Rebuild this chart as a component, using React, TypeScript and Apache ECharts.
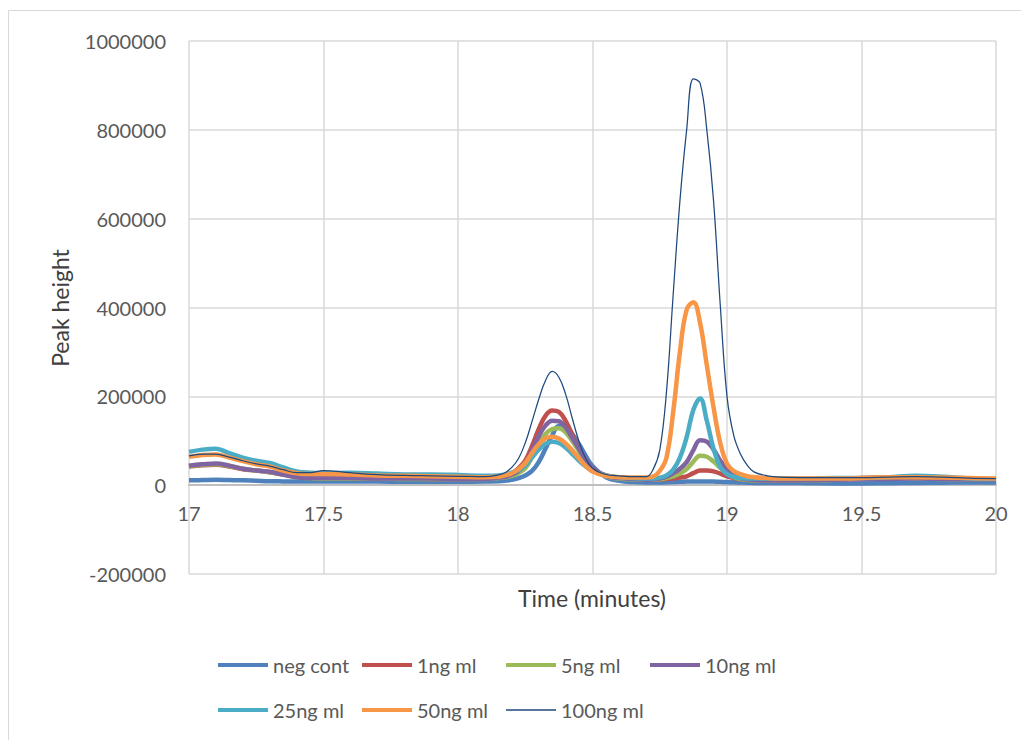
import React, { useEffect, useRef } from "react";
import * as echarts from "echarts";

// Time axis (minutes)
const time = [17, 17.05, 17.1, 17.15, 17.2, 17.25, 17.3, 17.35, 17.4, 17.45, 17.5, 17.6, 17.7, 17.8, 17.9, 18.0, 18.1, 18.15, 18.175, 18.2, 18.225, 18.25, 18.275, 18.3, 18.325, 18.35, 18.375, 18.4, 18.425, 18.45, 18.475, 18.5, 18.55, 18.6, 18.65, 18.7, 18.725, 18.75, 18.775, 18.8, 18.825, 18.85, 18.875, 18.9, 18.925, 18.95, 18.975, 19.0, 19.025, 19.05, 19.075, 19.1, 19.15, 19.2, 19.3, 19.4, 19.5, 19.6, 19.7, 19.8, 19.9, 20];

const negCont = [11000, 11500, 12000, 11500, 11000, 10000, 9000, 8500, 8000, 8000,
  8000, 8000, 8000, 7500, 7500, 7500, 8000,
  9000, 10000, 12000, 16000, 22000, 32000, 52000, 82000, 112000, 133000, 132000, 115000, 92000, 66000, 43000,
  18000, 10000, 7000, 6000,
  6000, 6000, 6500, 7000, 7500, 8000, 8500, 8500, 8500, 8000, 7500, 7000, 6500, 6000, 5500, 5000,
  5000, 5000,
  4500, 4000, 4000, 4500, 5000, 5500, 6000, 6000];

const ng1 = [42000, 45000, 46000, 42000, 36000, 33000, 29000, 24000, 19000, 17000,
  16000, 16000, 15000, 15000, 14000, 14000, 15000,
  18000, 21000, 27000, 38000, 55000, 88000, 126000, 156000, 168000, 165000, 145000, 113000, 80000, 54000, 37000,
  22000, 17000, 15000, 13000,
  13000, 13000, 14000, 15000, 17000, 20000, 27000, 33000, 33000, 31000, 26000, 20000, 16000, 13000, 12000, 11000,
  11000, 11000,
  12000, 13000, 16000, 18000, 17000, 16000, 14000, 13000];

const ng5 = [43000, 46000, 47000, 43000, 37000, 33000, 29000, 24000, 18000, 16000,
  15000, 15000, 15000, 14000, 14000, 14000, 14000,
  16000, 18000, 21000, 27000, 38000, 63000, 92000, 115000, 126000, 128000, 119000, 99000, 76000, 53000, 36000,
  20000, 15000, 13000, 12000,
  12000, 13000, 16000, 20000, 26000, 36000, 53000, 66000, 64000, 53000, 39000, 27000, 18000, 14000, 12000, 11000,
  11000, 11000,
  11000, 12000, 14000, 15000, 15000, 14000, 13000, 12000];

const ng10 = [44000, 47000, 49000, 44000, 37000, 33000, 30000, 24000, 18000, 16000,
  16000, 16000, 15000, 15000, 15000, 14000, 14000,
  17000, 19000, 24000, 32000, 47000, 78000, 110000, 134000, 145000, 144000, 130000, 106000, 81000, 57000, 38000,
  21000, 16000, 14000, 12000,
  13000, 15000, 19000, 27000, 37000, 52000, 79000, 101000, 98000, 80000, 55000, 35000, 22000, 16000, 13000, 12000,
  11000, 11000,
  11000, 12000, 13000, 14000, 15000, 14000, 13000, 12000];

const ng25 = [75000, 80000, 82000, 72000, 62000, 55000, 50000, 40000, 31000, 28000,
  27000, 28000, 26000, 24000, 24000, 23000, 21000,
  22000, 24000, 28000, 34000, 44000, 62000, 80000, 93000, 98000, 95000, 85000, 70000, 55000, 42000, 32000,
  22000, 18000, 16000, 15000,
  15000, 17000, 22000, 35000, 62000, 108000, 170000, 195000, 145000, 82000, 41000, 25000, 19000, 16000, 15000, 15000,
  15000, 15000,
  15000, 16000, 16000, 18000, 21000, 19000, 15000, 14000];

const ng50 = [64000, 68000, 69000, 62000, 54000, 47000, 42000, 33000, 27000, 25000,
  25000, 24000, 22000, 21000, 20000, 19000, 18000,
  19000, 22000, 27000, 36000, 50000, 72000, 92000, 105000, 109000, 105000, 94000, 78000, 60000, 43000, 31000,
  21000, 18000, 17000, 17000,
  19000, 32000, 62000, 165000, 300000, 395000, 412000, 365000, 270000, 175000, 95000, 48000, 32000, 25000, 20000, 18000,
  16000, 15000,
  15000, 15000, 16000, 18000, 18000, 17000, 16000, 15000];

const ng100 = [66000, 70000, 70000, 63000, 55000, 48000, 43000, 35000, 28000, 28000,
  33000, 28000, 24000, 22000, 21000, 20000, 19000,
  23000, 28000, 40000, 60000, 95000, 143000, 193000, 235000, 256000, 243000, 205000, 150000, 98000, 60000, 38000,
  24000, 21000, 19000, 19000,
  35000, 79000, 210000, 430000, 640000, 800000, 915000, 905000, 800000, 640000, 405000, 200000, 112000, 70000, 45000, 30000,
  21000, 18000,
  17000, 17000, 17000, 18000, 19000, 18000, 16000, 15000];

const seriesNames = ["neg cont", "1ng ml", "5ng ml", "10ng ml", "25ng ml", "50ng ml", "100ng ml"];
const seriesValues = [negCont, ng1, ng5, ng10, ng25, ng50, ng100];
const seriesColors = ["#4F81BD", "#C0504D", "#9BBB59", "#8064A2", "#4BACC6", "#F79646", "#1F497D"];
const seriesWidths = [4.5, 4.5, 4.5, 4.5, 4.5, 4.5, 1.25];

const xTicks = { min: 17, max: 20, interval: 0.5 };
const yTicks = { min: -200000, max: 1000000, interval: 200000 };

const FONT = "Lato, 'Open Sans', sans-serif";
const TEXT = "#595959";

export default function App() {
  const ref = useRef<HTMLDivElement>(null);
  useEffect(() => {
    if (!ref.current) return;
    const chart = echarts.init(ref.current, null, { renderer: "svg" });
    const legendPos = [
      [218, 655], [362, 655], [506, 655], [650, 655],
      [218, 700], [362, 700], [506, 700],
    ];
    chart.setOption({
      animation: false,
      backgroundColor: "#ffffff",
      textStyle: { fontFamily: FONT },
      grid: { left: 189, top: 41, width: 807, height: 533, containLabel: false },
      xAxis: {
        type: "value",
        min: xTicks.min,
        max: xTicks.max,
        interval: xTicks.interval,
        position: "bottom",
        offset: -89,
        axisLine: { onZero: false, lineStyle: { color: "#bfbfbf", width: 2 } },
        axisTick: { show: false },
        axisLabel: { color: TEXT, fontSize: 20, fontFamily: FONT, margin: 18 },
        splitLine: { show: true, lineStyle: { color: "#d9d9d9", width: 1.5 } },
      },
      yAxis: {
        type: "value",
        min: yTicks.min,
        max: yTicks.max,
        interval: yTicks.interval,
        axisLine: { show: false },
        axisTick: { show: false },
        axisLabel: { color: TEXT, fontSize: 20, fontFamily: FONT, margin: 23, formatter: (v: number) => String(v) },
        splitLine: { show: true, lineStyle: { color: "#d9d9d9", width: 1.5 } },
      },
      legend: seriesNames.map((n, i) => ({
        data: [n],
        left: legendPos[i][0],
        top: legendPos[i][1],
        padding: 0,
        icon: "rect",
        itemWidth: 50,
        itemHeight: seriesWidths[i] > 2 ? 4 : 1.3,
        selectedMode: false,
        textStyle: { color: TEXT, fontSize: 20, fontFamily: FONT },
      })),
      graphic: [
        { type: "rect", shape: { x: 8.5, y: 10.5, width: 1100, height: 900 }, style: { fill: "none", stroke: "#d9d9d9", lineWidth: 1 }, silent: true },
        { type: "text", x: 592, y: 598, style: { text: "Time (minutes)", fill: "#404040", font: `23px ${FONT}`, align: "center", verticalAlign: "middle" } },
        { type: "text", x: 60, y: 308, rotation: Math.PI / 2, style: { text: "Peak height", fill: "#404040", font: `23px ${FONT}`, align: "center", verticalAlign: "middle" } },
      ],
      series: seriesNames.map((n, i) => ({
        name: n,
        type: "line",
        data: time.map((t, j) => [t, seriesValues[i][j]]),
        symbol: "none",
        smooth: 0.4,
        color: seriesColors[i],
        lineStyle: { color: seriesColors[i], width: seriesWidths[i] },
      })),
    });
    return () => chart.dispose();
  }, []);
  return <div ref={ref} style={{ position: "fixed", left: 0, top: 0, width: 1021, height: 740 }} />;
}
